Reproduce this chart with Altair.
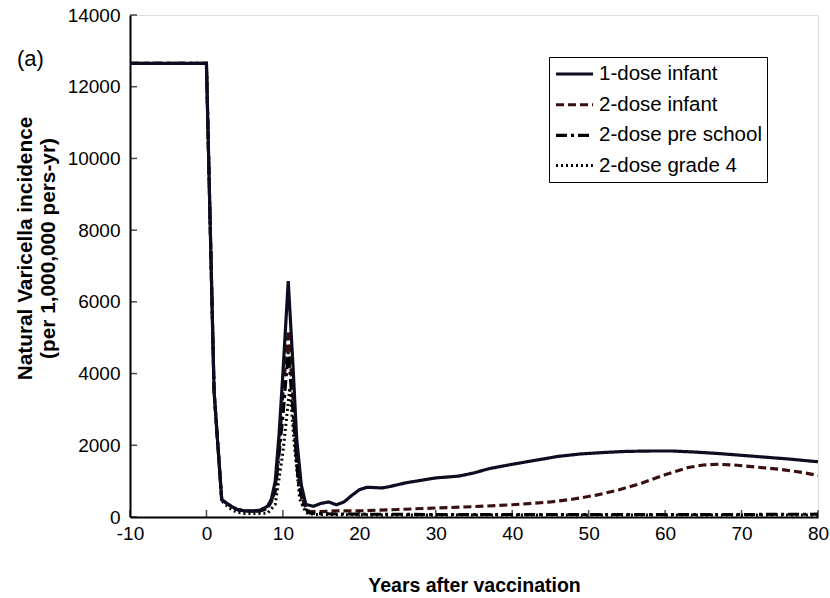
import altair as alt
import pandas as pd

# Strategy labels, drawn in this order in the legend
SERIES = ["1-dose infant", "2-dose infant", "2-dose pre school", "2-dose grade 4"]

# Years after vaccination and natural varicella incidence (per 1,000,000 person-years)
ONE_DOSE_T = [-10, 0, 1, 2, 3, 4, 5, 6, 7, 8, 8.5, 9, 9.5, 10, 10.7, 11.3, 11.8, 12.4, 13,
              14, 15, 16, 17, 18, 19, 20, 21, 22, 23, 24, 26, 28, 30, 33, 35, 37, 40, 43,
              46, 49, 52, 55, 58, 61, 64, 67, 70, 73, 76, 80]
ONE_DOSE = [12650, 12650, 3500, 480, 330, 210, 170, 170, 190, 300, 500, 1000, 2300, 4000,
            6580, 4300, 2200, 900, 350, 300, 380, 420, 340, 420, 600, 760, 830, 820, 810,
            850, 950, 1020, 1090, 1140, 1230, 1350, 1470, 1580, 1690, 1760, 1800, 1830,
            1840, 1840, 1810, 1770, 1720, 1670, 1620, 1540]

TWO_INFANT_T = [-10, 0, 1, 2, 3, 4, 5, 6, 7, 8, 8.5, 9, 9.5, 10, 10.7, 11.3, 11.8, 12.4, 13,
                13.5, 15, 17, 20, 25, 30, 35, 40, 45, 48, 51, 54, 57, 60, 63, 65, 67, 69,
                72, 75, 78, 80]
TWO_INFANT = [12650, 12650, 3500, 480, 330, 210, 170, 160, 170, 260, 420, 800, 1900, 3400,
              5200, 3400, 1600, 600, 250, 150, 150, 170, 170, 210, 250, 290, 340, 420, 500,
              610, 760, 950, 1180, 1380, 1450, 1470, 1450, 1390, 1330, 1240, 1160]

PRE_SCHOOL_T = [-10, 0, 1, 2, 3, 4, 5, 6, 7, 8, 9, 10, 10.7, 11.3, 12, 12.7, 13.5, 15,
                20, 30, 40, 50, 60, 70, 80]
PRE_SCHOOL = [12650, 12650, 3500, 480, 330, 210, 170, 160, 170, 240, 700, 2800, 4600, 3000,
              1000, 280, 110, 90, 80, 70, 70, 70, 70, 70, 80]

GRADE4_T = [-10, 0, 1, 2, 3, 4, 5, 6, 7, 8, 9, 10, 10.9, 11.5, 12.2, 13, 14,
            20, 30, 40, 50, 60, 70, 80]
GRADE4 = [12650, 12650, 3500, 450, 250, 130, 100, 100, 100, 110, 350, 1800, 3600, 2000,
          500, 120, 70, 60, 55, 55, 55, 55, 55, 55]

X_TICKS = list(range(-10, 81, 10))
Y_TICKS = list(range(0, 14001, 2000))

# Line styling per strategy
COLORS = ["#0d0d22", "#3a0f0f", "#000000", "#000000"]
DASHES = [[1, 0], [8, 4], [11, 4, 3, 4], [2, 3]]
WIDTHS = [3.2, 3.0, 3.0, 1.5]

FONT = "Liberation Sans"

rows = []
for name, ts, vs in [
    (SERIES[0], ONE_DOSE_T, ONE_DOSE),
    (SERIES[1], TWO_INFANT_T, TWO_INFANT),
    (SERIES[2], PRE_SCHOOL_T, PRE_SCHOOL),
    (SERIES[3], GRADE4_T, GRADE4),
]:
    for t, v in zip(ts, vs):
        rows.append({"series": name, "year": t, "incidence": v})
df = pd.DataFrame(rows)

x_scale = alt.Scale(domain=[-10, 80], nice=False, zero=False)
y_scale = alt.Scale(domain=[0, 14000], nice=False)

x_axis = alt.Axis(
    title="Years after vaccination", values=X_TICKS, ticks=False, grid=False,
    labelExpr="toString(datum.value)",
    domainColor="black", domainWidth=2, labelFont=FONT, labelFontSize=19,
    labelColor="black", labelPadding=7, labelFlush=False,
    titleFont=FONT, titleFontSize=19.5, titleFontWeight="bold", titleColor="black",
    titlePadding=33,
)
y_axis = alt.Axis(
    title=["Natural Varicella incidence", "(per 1,000,000 pers-yr)"],
    values=Y_TICKS, labelExpr="toString(datum.value)", ticks=False, grid=False,
    domainColor="black", domainWidth=2, labelFont=FONT, labelFontSize=19,
    labelColor="black", labelPadding=10, labelFlush=False,
    titleFont=FONT, titleFontSize=20.8, titleFontWeight="bold", titleColor="black",
    titleLineHeight=23, titleX=-95, titleY=233,
)

# short horizontal stroke as legend key, long enough to show the dash pattern
legend = alt.Legend(
    orient="none", legendX=419, legendY=42, symbolType="M-1,0H2.7", symbolSize=400,
    labelFont=FONT, labelFontSize=20.5, labelColor="black", labelOffset=21,
    labelLimit=260, strokeColor="black", padding=5, rowPadding=7.7,
)

color = alt.Color("series:N", scale=alt.Scale(domain=SERIES, range=COLORS), legend=legend, title=None)
dash = alt.StrokeDash("series:N", scale=alt.Scale(domain=SERIES, range=DASHES), legend=legend, title=None)
stroke_w = alt.StrokeWidth("series:N", scale=alt.Scale(domain=SERIES, range=WIDTHS), legend=legend, title=None)

base = alt.Chart(df).encode(
    x=alt.X("year:Q", scale=x_scale, axis=x_axis),
    y=alt.Y("incidence:Q", scale=y_scale, axis=y_axis),
    color=color, strokeDash=dash, strokeWidth=stroke_w,
    order=alt.Order("year:Q"),
)

# the two-dose strategies underneath, the one-dose line on top
others = base.transform_filter(alt.datum.series != SERIES[0]).mark_line()
one_dose = base.transform_filter(alt.datum.series == SERIES[0]).mark_line()

# inward-pointing tick marks on both axes
x_ticks = alt.Chart(pd.DataFrame({"year": X_TICKS})).mark_tick(
    orient="vertical", size=7, thickness=1.5, color="black", yOffset=-3.5
).encode(x=alt.X("year:Q", scale=x_scale), y=alt.datum(0))
y_ticks = alt.Chart(pd.DataFrame({"incidence": Y_TICKS})).mark_tick(
    orient="horizontal", size=7, thickness=1.5, color="black", xOffset=3.5
).encode(x=alt.datum(-10), y=alt.Y("incidence:Q", scale=y_scale))

chart = alt.layer(others, one_dose, x_ticks, y_ticks).properties(
    width=688, height=502,
    autosize="none",
    padding={"left": 130, "top": 15, "right": 12, "bottom": 81},
    title=alt.TitleParams(
        "(a)", anchor="start", frame="group", orient="top", offset=0,
        dx=-113, dy=82, baseline="alphabetic",
        font=FONT, fontSize=22, fontWeight="normal", color="black",
    ),
).configure_view(stroke=None).configure_legend(strokeWidth=2).configure(background="white")

chart.save("out.html", embed_options={"renderer": "svg", "actions": False})
